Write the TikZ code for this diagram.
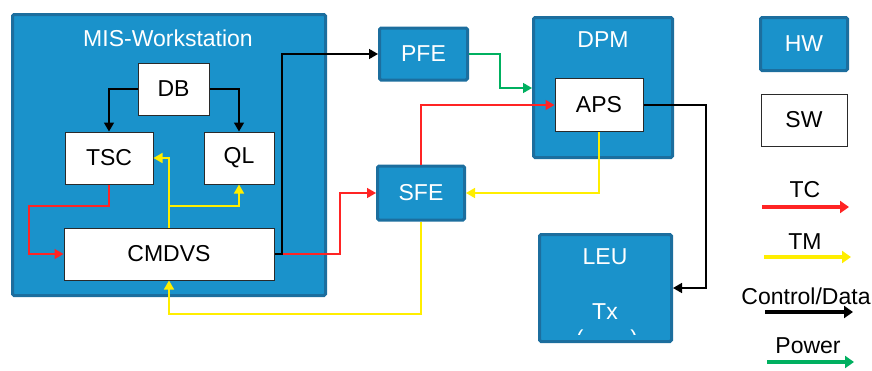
\documentclass[tikz,border=0pt]{standalone}
\usepackage{fontspec}
\setmainfont{Liberation Sans}
\usetikzlibrary{arrows.meta}
\definecolor{hwfill}{HTML}{1A92CB}
\definecolor{hwedge}{HTML}{1C6E9E}
\definecolor{tcline}{HTML}{FF2424}
\definecolor{tmline}{HTML}{FFEE00}
\definecolor{pwline}{HTML}{00B060}
\definecolor{swedge}{HTML}{2A2A2A}

\begin{document}
\begin{tikzpicture}[x=1pt,y=-1pt,font=\fontsize{23}{27}\selectfont,
  hw/.style={rectangle,fill=hwfill,draw=hwedge,line width=3pt,inner sep=0pt,rounded corners=1.5pt},
  sw/.style={rectangle,fill=white,draw=swedge,line width=1pt,inner sep=0pt},
  hwtext/.style={text=white,inner sep=0pt},
  link/.style={line width=1.5pt,-{Triangle[length=9pt,width=10pt]}},
  tc/.style={link,color=tcline},
  tm/.style={link,color=tmline},
  ctrl/.style={link,color=black},
  pw/.style={link,color=pwline},
  keyarrow/.style={line width=3.5pt,-{Triangle[length=9pt,width=12pt]}}]
\useasboundingbox (0,0) rectangle (872,370);
% hardware blocks
\node[hw,minimum width=313pt,minimum height=281pt] (mis) at (169,155) {};
\node[hwtext] (mistitle) at (168,38) {MIS-Workstation};
\node[hw,minimum width=88pt,minimum height=52pt] (pfe) at (423.5,54) {};
\node[hwtext] (pfetitle) at (423.5,54) {PFE};
\node[hw,minimum width=87pt,minimum height=54pt] (sfe) at (421,193) {};
\node[hwtext] (sfetitle) at (421,193) {SFE};
\node[hw,minimum width=139pt,minimum height=140pt] (dpm) at (603,87.5) {};
\node[hwtext] (dpmtitle) at (603,40) {DPM};
\node[hw,minimum width=132pt,minimum height=107pt] (leu) at (605.5,288) {};
\node[hwtext] (leutitle) at (605,257) {LEU};
\node[hwtext] (leutx) at (605,312) {Tx};
\begin{scope}
  \clip (545,320) rectangle (666,334);
  \node[hwtext] (leunote) at (607,341) {(\hspace{47pt})};
\end{scope}
% software blocks
\node[sw,minimum width=71pt,minimum height=52pt] (db) at (173.5,89) {DB};
\node[sw,minimum width=88pt,minimum height=52pt] (tsc) at (109,158) {TSC};
\node[sw,minimum width=70pt,minimum height=52pt] (ql) at (239,158) {QL};
\node[sw,minimum width=210pt,minimum height=52pt] (cmdvs) at (169,254) {CMDVS};
\node[sw,minimum width=88pt,minimum height=53pt] (aps) at (599,105) {APS};
% bend points
\coordinate (tcleft) at (29,206);
\coordinate (tmjoin) at (169,206);
\coordinate (tmlow) at (169,314);
\coordinate (ctrlup) at (282,254);
\coordinate (tcbend) at (340,254);
\coordinate (pwbend) at (500,88);
\coordinate (ctrlright) at (706,105);
% connectors
\draw[ctrl] (db.west) -| (tsc.north);
\draw[ctrl] (db.east) -| (ql.north);
\draw[tc] (tsc.south) |- (tcleft) |- (cmdvs.west);
\draw[tm] (cmdvs.north) |- (tsc.east);
\draw[tm] (tmjoin) -| (ql.south);
\draw[tm] (sfe.south) |- (tmlow) -- (cmdvs.south);
\draw[tc] (cmdvs.east) -- (tcbend) |- (sfe.west);
\draw[ctrl] (cmdvs.east) -- (ctrlup) |- (pfe.west);
\draw[pw] (pfe.east) -| (pwbend) -- (pwbend -| dpm.west);
\draw[tc] (sfe.north) |- (aps.west);
\draw[tm] (aps.south) |- (sfe.east);
\draw[ctrl] (aps.east) -- (ctrlright) |- (leu.east);
% legend
\node[hw,minimum width=87pt,minimum height=53pt] (hwkey) at (804,44) {};
\node[hwtext] (hwkeytext) at (804,44) {HW};
\node[sw,minimum width=86pt,minimum height=52pt] (swkey) at (804,120) {SW};
\node (tckey) at (805,190) {TC};
\node (tmkey) at (805,242) {TM};
\node (ctrlkey) at (806,296) {Control/Data};
\node (pwkey) at (808,346) {Power};
\coordinate (tcfrom) at (762,207);
\coordinate (tcto) at (849,207);
\coordinate (tmfrom) at (764,257);
\coordinate (tmto) at (851,257);
\coordinate (ctrlfrom) at (765,312);
\coordinate (ctrlto) at (853,312);
\coordinate (pwfrom) at (767,362);
\coordinate (pwto) at (854,362);
\draw[keyarrow,color=tcline] (tcfrom) -- (tcto);
\draw[keyarrow,color=tmline] (tmfrom) -- (tmto);
\draw[keyarrow,color=black] (ctrlfrom) -- (ctrlto);
\draw[keyarrow,color=pwline] (pwfrom) -- (pwto);
\end{tikzpicture}
\end{document}
